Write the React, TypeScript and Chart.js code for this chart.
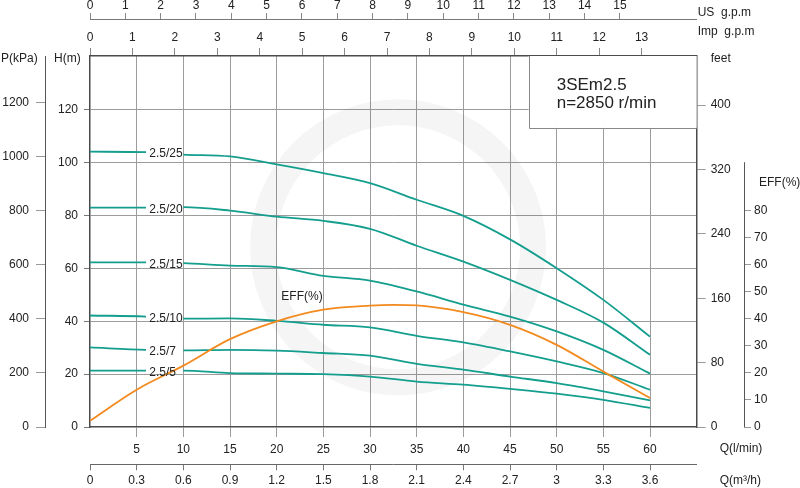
import React, { useEffect, useRef } from "react";
import { Chart, registerables } from "chart.js";

Chart.register(...registerables);

const FONT = 'Arial, "Liberation Sans", Helvetica, sans-serif';

// ---- data (flow in l/min, head in m) ----
const flowLpm = [0, 6, 10, 15, 20, 25, 30, 35, 40, 45, 50, 55, 60];
const head25 = [104.2, 104.0, 103.1, 102.4, 99.4, 96.1, 92.3, 86.0, 79.9, 71.0, 60.1, 48.1, 34.2];
const head20 = [83.0, 83.0, 83.2, 81.9, 79.6, 78.0, 75.0, 68.6, 62.6, 55.7, 48.1, 39.5, 27.3];
const head15 = [62.3, 62.3, 62.0, 61.1, 60.5, 57.2, 55.4, 51.3, 46.3, 41.8, 36.2, 29.2, 20.2];
const head10 = [42.2, 41.8, 41.0, 41.1, 40.2, 38.7, 37.7, 34.5, 32.0, 28.6, 24.8, 20.4, 14.1];
const head7 = [30.1, 29.2, 29.0, 29.2, 28.9, 28.0, 27.0, 23.9, 21.7, 19.1, 16.6, 13.5, 10.1];
const head5 = [21.3, 21.3, 21.3, 20.4, 20.2, 20.0, 19.1, 17.2, 16.0, 14.4, 12.6, 10.3, 7.2];
const curveNames = ["2.5/25", "2.5/20", "2.5/15", "2.5/10", "2.5/7", "2.5/5"];

const effFlow = [0, 5, 10, 15, 20, 25, 30, 32.5, 35, 40, 45, 50, 55, 60];
const effValues = [2.3, 13.8, 22.7, 32.5, 39.1, 43.4, 44.9, 45.2, 45.0, 42.5, 37.8, 30.4, 20.5, 10.7];

// ---- tick labels ----
const lpmTicks = [0, 5, 10, 15, 20, 25, 30, 35, 40, 45, 50, 55, 60, 65];
const m3hTicks = [0, 0.3, 0.6, 0.9, 1.2, 1.5, 1.8, 2.1, 2.4, 2.7, 3, 3.3, 3.6];
const usGpmTicks = [0, 1, 2, 3, 4, 5, 6, 7, 8, 9, 10, 11, 12, 13, 14, 15];
const impGpmTicks = [0, 1, 2, 3, 4, 5, 6, 7, 8, 9, 10, 11, 12, 13];
const headTicks = [0, 20, 40, 60, 80, 100, 120];
const kpaTicks = [0, 200, 400, 600, 800, 1000, 1200];
const feetTicks = [0, 80, 160, 240, 320, 400];
const effTicks = [0, 10, 20, 30, 40, 50, 60, 70, 80];

const modelTitle = "3SEm2.5";
const speedText = "n=2850 r/min";

// ---- ranges ----
const FLOW_MAX = 65;
const H_MAX = 140.4;
const P_MAX = 1371;
const FT_MAX = 461;
const EFF_MAX = 137.3;
const M3H_MAX = FLOW_MAX * 0.06;
const US_MAX = FLOW_MAX / 3.785;
const IMP_MAX = FLOW_MAX / 4.546;

const TEAL = "#149e8e";
const ORANGE = "#f28a1e";
const GRID = "#9c9c9c";
const BORDER = "#4a4a4a";
const TEXT = "#222";
const CLEAR = "rgba(0,0,0,0)";

const setTicks = (vals: number[]) => (scale: any) => {
  scale.ticks = vals.map((v) => ({ value: v }));
};
const plain = (v: any) => String(v);

const LABEL_Q = 6.35;

const decorPlugin = {
  id: "decor",
  beforeDatasetsDraw(chart: any) {
    const { ctx, chartArea, scales } = chart;
    const xs = scales.x;
    const ys = scales.y;
    ctx.save();
    // faint watermark ring
    ctx.beginPath();
    ctx.arc(xs.getPixelForValue(33), ys.getPixelForValue(68), 135, 0, Math.PI * 2);
    ctx.lineWidth = 26;
    ctx.strokeStyle = "rgba(0,0,0,0.04)";
    ctx.stroke();
    // model box
    const bx = xs.getPixelForValue(47);
    const by = ys.getPixelForValue(113.2);
    ctx.fillStyle = "#fff";
    ctx.fillRect(bx, chartArea.top, chartArea.right - bx, by - chartArea.top);
    ctx.strokeStyle = "#888";
    ctx.lineWidth = 1;
    ctx.beginPath();
    ctx.moveTo(Math.round(bx) + 0.5, chartArea.top);
    ctx.lineTo(Math.round(bx) + 0.5, Math.round(by) + 0.5);
    ctx.lineTo(chartArea.right, Math.round(by) + 0.5);
    ctx.stroke();
    ctx.fillStyle = TEXT;
    ctx.font = "17px " + FONT;
    ctx.textBaseline = "middle";
    ctx.textAlign = "left";
    ctx.fillText(modelTitle, bx + 28, chartArea.top + 29);
    ctx.fillText(speedText, bx + 28, chartArea.top + 47);
    ctx.restore();
  },
  afterDatasetsDraw(chart: any) {
    const { ctx, scales } = chart;
    const xs = scales.x;
    const ys = scales.y;
    ctx.save();
    ctx.font = "12px " + FONT;
    ctx.fillStyle = TEXT;
    ctx.textBaseline = "middle";
    ctx.textAlign = "left";
    chart.data.datasets.forEach((ds: any) => {
      if (!ds.curveLabel) return;
      const y = ys.getPixelForValue(ds.labelH) + 2;
      ctx.fillText(ds.curveLabel, xs.getPixelForValue(LABEL_Q), y);
    });
    const es = scales.yeff;
    ctx.fillText("EFF(%)", xs.getPixelForValue(20.5), es.getPixelForValue(48.3));
    ctx.restore();
  },
  afterDraw(chart: any) {
    const { ctx, chartArea, scales } = chart;
    const es = scales.yeff;
    ctx.save();
    // efficiency axis line
    ctx.strokeStyle = "#555";
    ctx.lineWidth = 1;
    ctx.beginPath();
    const ex = Math.round(es.left) + 0.5;
    ctx.moveTo(ex, es.getPixelForValue(0));
    ctx.lineTo(ex, es.getPixelForValue(98));
    ctx.stroke();
    // titles
    ctx.fillStyle = TEXT;
    ctx.font = "12px " + FONT;
    ctx.textBaseline = "middle";
    ctx.textAlign = "left";
    ctx.fillText("P(kPa)", 1, chartArea.top + 3);
    ctx.fillText("H(m)", 54, chartArea.top + 3);
    ctx.fillText("US  g.p.m", chartArea.right + 1, 12.5);
    ctx.fillText("Imp  g.p.m", chartArea.right + 1, 31.5);
    ctx.fillText("feet", chartArea.right + 14, chartArea.top + 2.5);
    ctx.fillText("EFF(%)", es.left + 15, 183);
    ctx.fillText("Q(l/min)", chartArea.right + 23, 449);
    ctx.fillText("Q(m³/h)", chartArea.right + 23, 481);
    ctx.restore();
  },
};

function makeConfig(): any {
  const heads = [head25, head20, head15, head10, head7, head5];
  const curveSets = heads.map((h, i) => ({
    label: curveNames[i],
    curveLabel: curveNames[i],
    labelH: h[1],
    data: flowLpm.map((q, j) => ({ x: q, y: h[j] })),
    borderColor: TEAL,
    borderWidth: 1.8,
    pointRadius: 0,
    cubicInterpolationMode: "monotone",
    xAxisID: "x",
    yAxisID: "y",
    segment: {
      borderColor: (c: any) =>
        c.p0.parsed.x >= 5.9 && c.p1.parsed.x <= 10.1 ? CLEAR : TEAL,
    },
  }));
  const effSet = {
    label: "EFF(%)",
    data: effFlow.map((q, j) => ({ x: q, y: effValues[j] })),
    borderColor: ORANGE,
    borderWidth: 1.8,
    pointRadius: 0,
    cubicInterpolationMode: "monotone",
    xAxisID: "x",
    yAxisID: "yeff",
  };
  const tickFont = { family: FONT, size: 12 };
  return {
    type: "line",
    data: { datasets: [effSet, ...curveSets] },
    plugins: [decorPlugin],
    options: {
      responsive: false,
      animation: false,
      events: [],
      layout: { padding: 0 },
      plugins: { legend: { display: false }, tooltip: { enabled: false } },
      scales: {
        x: {
          type: "linear",
          position: "bottom",
          weight: 0,
          min: 0,
          max: FLOW_MAX,
          afterBuildTicks: setTicks(lpmTicks),
          afterFit: (s: any) => { s.height = 37.3; },
          ticks: {
            autoSkip: false, maxRotation: 0, padding: 5, color: TEXT, font: tickFont,
            callback: (v: any) => (v === 0 || v === FLOW_MAX ? "" : String(v)),
          },
          grid: {
            color: (c: any) => (c.tick && (c.tick.value === 0 || c.tick.value === FLOW_MAX) ? CLEAR : GRID),
            tickColor: (c: any) => (c.tick && (c.tick.value === 0 || c.tick.value === FLOW_MAX) ? CLEAR : GRID),
            tickLength: 10,
          },
          border: { display: true, color: BORDER, width: 1.5 },
        },
        xm3: {
          type: "linear",
          position: "bottom",
          weight: 1,
          min: 0,
          max: M3H_MAX,
          afterBuildTicks: setTicks(m3hTicks),
          afterFit: (s: any) => { s.height = 23.7; },
          ticks: {
            autoSkip: false, maxRotation: 0, padding: 3.5, color: TEXT, font: tickFont,
            callback: (v: any) => String(Math.round(v * 10) / 10),
          },
          grid: { drawOnChartArea: false, tickLength: 6, color: "#777", tickColor: "#777" },
          border: { display: true, color: "#666", width: 1 },
        },
        ximp: {
          type: "linear",
          position: "top",
          weight: 0,
          min: 0,
          max: IMP_MAX,
          afterBuildTicks: setTicks(impGpmTicks),
          afterFit: (s: any) => { s.height = 37; },
          ticks: { autoSkip: false, maxRotation: 0, padding: 3, color: TEXT, font: tickFont, callback: plain },
          grid: { drawOnChartArea: false, tickLength: 8, color: "#888", tickColor: "#888" },
          border: { display: true, color: BORDER, width: 1.5 },
        },
        xus: {
          type: "linear",
          position: "top",
          weight: 1,
          min: 0,
          max: US_MAX,
          afterBuildTicks: setTicks(usGpmTicks),
          afterFit: (s: any) => { s.height = 19; },
          ticks: { autoSkip: false, maxRotation: 0, padding: 0.5, color: TEXT, font: tickFont, callback: plain },
          grid: { drawOnChartArea: false, tickLength: 6, color: "#888", tickColor: "#888" },
          border: { display: true, color: "#777", width: 1 },
        },
        y: {
          type: "linear",
          position: "left",
          weight: 0,
          min: 0,
          max: H_MAX,
          afterBuildTicks: setTicks(headTicks),
          afterFit: (s: any) => { s.width = 45; },
          ticks: { autoSkip: false, padding: 6, color: TEXT, font: tickFont, callback: plain },
          grid: {
            color: (c: any) => (c.tick && c.tick.value === 0 ? CLEAR : GRID),
            tickColor: "#777",
            tickLength: 6,
          },
          border: { display: true, color: BORDER, width: 1.5 },
        },
        yp: {
          type: "linear",
          position: "left",
          weight: 1,
          min: 0,
          max: P_MAX,
          afterBuildTicks: setTicks(kpaTicks),
          afterFit: (s: any) => { s.width = 45; },
          ticks: { autoSkip: false, padding: 7, color: TEXT, font: tickFont, callback: plain },
          grid: { drawOnChartArea: false, tickLength: 9, color: "#999", tickColor: "#999" },
          border: { display: true, color: "#555", width: 1 },
        },
        yft: {
          type: "linear",
          position: "right",
          weight: 0,
          min: 0,
          max: FT_MAX,
          afterBuildTicks: setTicks(feetTicks),
          afterFit: (s: any) => { s.width = 47.3; },
          ticks: { autoSkip: false, padding: 5, color: TEXT, font: tickFont, callback: plain },
          grid: { drawOnChartArea: false, tickLength: 9, color: "#999", tickColor: "#999" },
          border: { display: true, color: BORDER, width: 1.5 },
        },
        yeff: {
          type: "linear",
          position: "right",
          weight: 1,
          min: 0,
          max: EFF_MAX,
          afterBuildTicks: setTicks(effTicks),
          afterFit: (s: any) => { s.width = 56; },
          ticks: { autoSkip: false, padding: 3, color: TEXT, font: tickFont, callback: plain },
          grid: { drawOnChartArea: false, tickLength: 7, color: "#999", tickColor: "#999" },
          border: { display: false },
        },
      },
    },
  };
}

export default function App() {
  const ref = useRef<HTMLCanvasElement>(null);
  useEffect(() => {
    const prev = document.body.style.margin;
    document.body.style.margin = "0";
    Chart.defaults.font.family = FONT;
    Chart.defaults.font.size = 12;
    Chart.defaults.color = TEXT;
    const chart = new Chart(ref.current as HTMLCanvasElement, makeConfig());
    return () => {
      chart.destroy();
      document.body.style.margin = prev;
    };
  }, []);
  return (
    <div style={{ position: "absolute", left: 0, top: 0, width: 800, height: 488, background: "#fff" }}>
      <canvas ref={ref} width={800} height={488} style={{ display: "block", width: 800, height: 488 }} />
    </div>
  );
}
